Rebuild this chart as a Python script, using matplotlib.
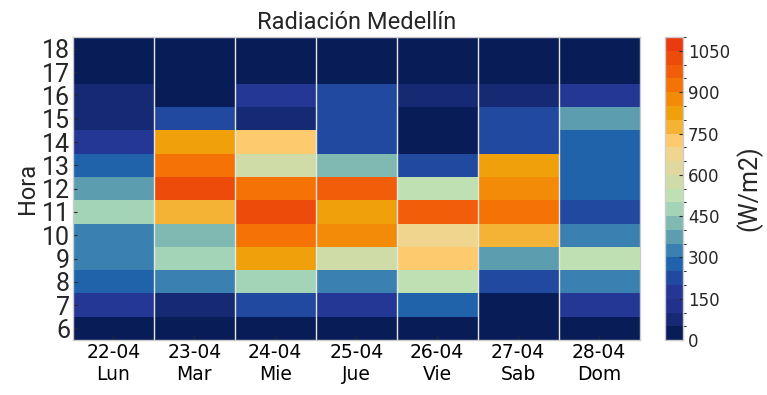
import numpy as np
import matplotlib
matplotlib.use('Agg')
import matplotlib.pyplot as plt
from matplotlib.colors import ListedColormap, BoundaryNorm

# datos: radiacion por hora (6..18) para cada dia
dias = ['22-04\nLun', '23-04\nMar', '24-04\nMie', '25-04\nJue', '26-04\nVie', '27-04\nSab', '28-04\nDom']
horas = [6, 7, 8, 9, 10, 11, 12, 13, 14, 15, 16, 17, 18]

lun = [25, 175, 275, 325, 325, 475, 375, 275, 175, 75, 75, 25, 25]
mar = [25, 75, 325, 475, 425, 775, 1025, 925, 825, 225, 25, 25, 25]
mie = [25, 225, 475, 825, 925, 1025, 925, 575, 725, 75, 175, 25, 25]
jue = [25, 175, 325, 575, 875, 825, 975, 425, 225, 225, 225, 25, 25]
vie = [25, 275, 525, 725, 675, 975, 525, 225, 25, 25, 75, 25, 25]
sab = [25, 25, 225, 375, 775, 925, 875, 825, 240, 210, 75, 25, 25]
dom = [25, 175, 325, 525, 325, 225, 275, 275, 275, 375, 175, 25, 25]

niveles = np.arange(0, 1101, 50)
colores = ['#081d58', '#152a72', '#21318c', '#253795', '#2249a0', '#2163aa',
           '#3a80b0', '#5c9db0', '#80b8b2', '#a3d4b7', '#bfe0b2', '#d0dca8',
           '#e0d89c', '#f0d58f', '#fdcb6e', '#f5b335', '#f0a00a', '#f38a08',
           '#f57205', '#f15d08', '#ec4b0a', '#e93a10']

cmap = ListedColormap(colores)
norm = BoundaryNorm(niveles, cmap.N)

z = np.array([lun, mar, mie, jue, vie, sab, dom]).T

fig = plt.figure(figsize=(7.67, 3.95), dpi=100)
ax = fig.add_axes([0.095, 0.139, 0.739, 0.767])
cax = fig.add_axes([0.867, 0.139, 0.0235, 0.767])

x = np.arange(len(dias) + 1) - 0.5
y = np.arange(len(horas) + 1) - 0.5 + horas[0]
mesh = ax.pcolormesh(x, y, z, cmap=cmap, norm=norm)
ax.vlines(x[1:-1], y[0], y[-1], color='#e6e6e6', lw=1)

ax.set_xlim(x[0], x[-1])
ax.set_ylim(y[0], y[-1])
ax.set_xticks(range(len(dias)))
ax.set_xticklabels(dias, fontsize=13.5, family='DejaVu Sans')
ax.set_yticks(horas)
ax.set_yticklabels([str(h) for h in horas], fontsize=18, family='Roboto', color='#262626')
ax.tick_params(direction='in', length=3, width=0.8, color='#262626', pad=2)
for s in ax.spines.values():
    s.set_color('#cccccc')
    s.set_linewidth(1)

ax.set_title('Radiación Medellín', fontsize=17, family='Roboto', color='#262626', pad=6)
ax.set_ylabel('Hora', fontsize=17, family='Roboto', color='#262626', labelpad=2)

cb = fig.colorbar(mesh, cax=cax, ticks=np.arange(0, 1051, 150))
cb.outline.set_edgecolor('#cccccc')
cb.outline.set_linewidth(1)
cb.ax.tick_params(direction='in', length=3, width=0.8, labelsize=12, color='#262626',
                  labelcolor='#262626')
cb.set_label('(W/m2)', fontsize=18, family='Roboto', color='#262626', labelpad=4)

fig.savefig('out.png', dpi=100)
